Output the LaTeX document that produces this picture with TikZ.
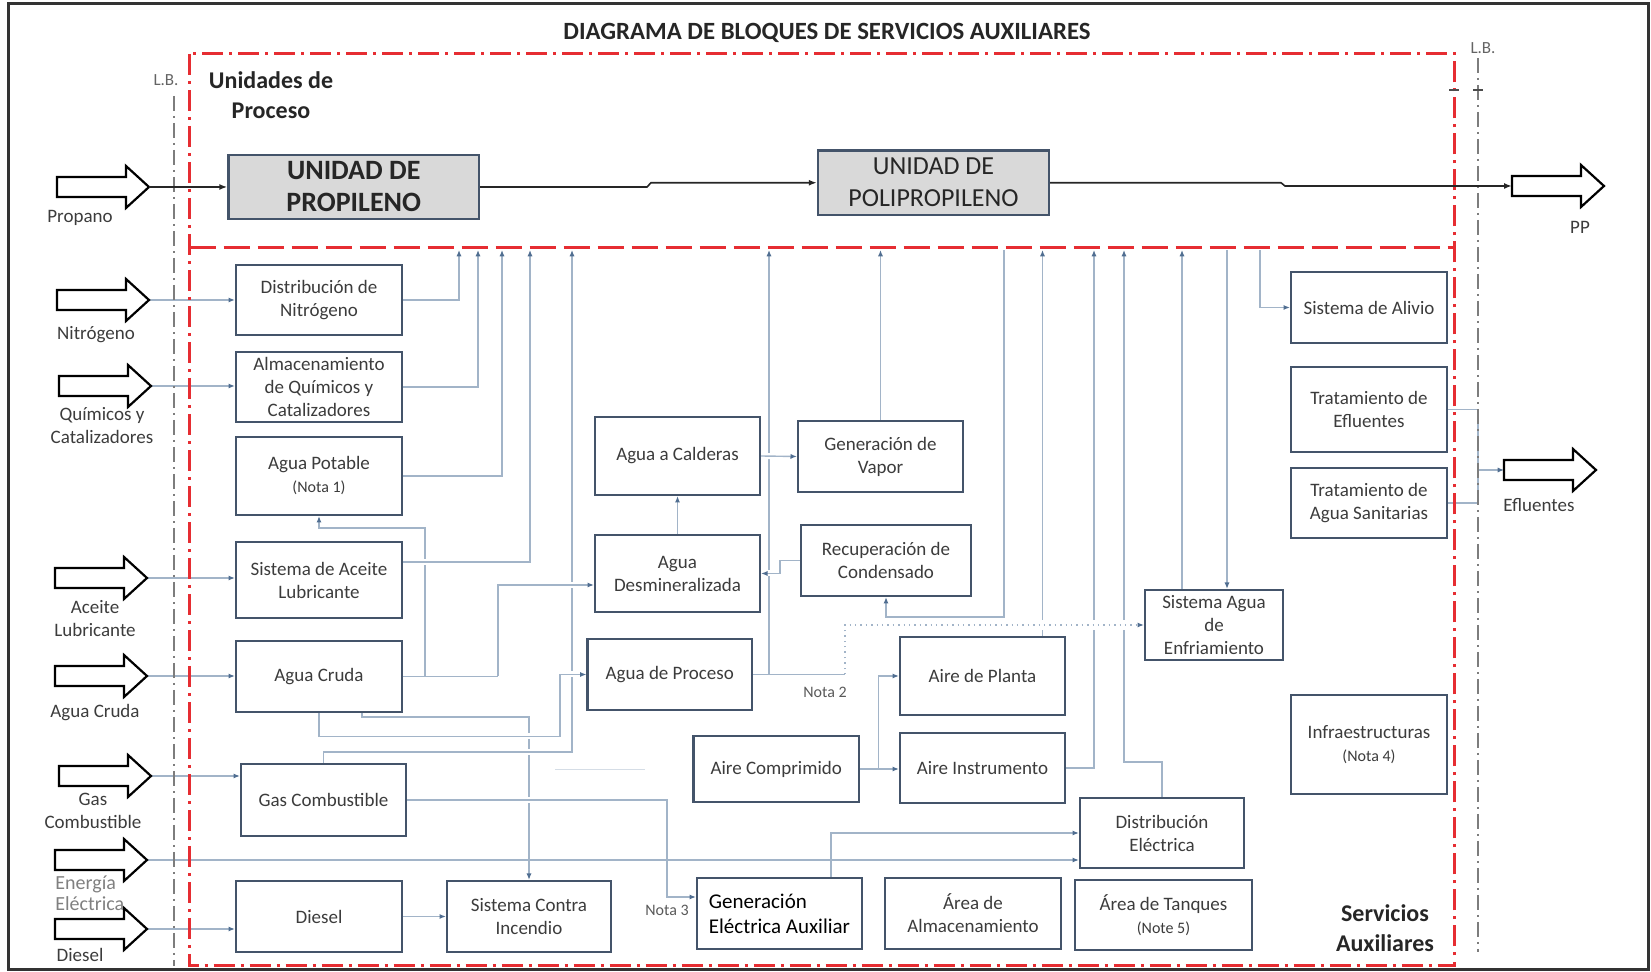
\documentclass[tikz,border=0pt]{standalone}
\usepackage{fontspec}
\setmainfont{Carlito}
\usetikzlibrary{arrows.meta,calc}
\pgfdeclarelayer{bg}
\pgfsetlayers{bg,main}
\definecolor{boxc}{RGB}{68,84,106}
\definecolor{txtc}{RGB}{60,60,60}
\definecolor{connc}{RGB}{162,180,200}
\definecolor{arrc}{RGB}{80,110,145}
\definecolor{redc}{RGB}{230,45,50}
\definecolor{lbc}{RGB}{125,125,125}
\definecolor{unitfill}{RGB}{217,217,217}
\newcommand\blockarr[3]{%
  \draw[barrow] ({#2-92},{#3-10}) -- ({#2-23},{#3-10}) -- ({#2-23},{#3-21}) -- (#2,#3) -- ({#2-23},{#3+21}) -- ({#2-23},{#3+10}) -- ({#2-92},{#3+10}) -- cycle;
  \coordinate (#1) at (#2,#3);
  \coordinate (#1t) at ({#2-92},#3);}
\begin{document}
\begin{tikzpicture}[x=0.5pt,y=-0.5pt,
  box/.style={draw=boxc, line width=1.1pt, fill=white, inner sep=0pt, align=center, text=txtc, font=\fontsize{9.5}{11.5}\selectfont},
  bxat/.style n args={4}{minimum width={(#3-#1)*0.5pt}, minimum height={(#4-#2)*0.5pt}, at={({(#1+#3)/2},{(#2+#4)/2})}},
  unit/.style={draw=boxc, line width=1.2pt, fill=unitfill, inner sep=0pt, align=center, text=black!85},
  conn/.style={draw=connc, line width=0.7pt},
  flow/.style={conn, -{Latex[length=3.2pt,width=2.6pt,color=arrc]}},
  halo/.style={preaction={draw=white, line width=#1, arrows=-, solid}},
  halo/.default=3pt,
  lbl/.style={text=txtc, font=\fontsize{9.5}{11.5}\selectfont, align=center, inner sep=0pt},
  note/.style={text=txtc!85, font=\fontsize{8}{9.5}\selectfont, inner sep=0pt},
  barrow/.style={draw=black, line width=1.1pt, fill=white, line join=miter},
  redbound/.style={draw=redc, line width=1.5pt, dash pattern=on 10.5pt off 3pt on 1.5pt off 3pt},
  reddash/.style={draw=redc, line width=1.5pt, dash pattern=on 13pt off 4pt},
  lbline/.style={draw=lbc, line width=1.1pt, dash pattern=on 7.5pt off 2.5pt on 1pt off 2.5pt},
  procline/.style={draw=black!85, line width=0.8pt, -{Latex[length=4pt,width=3pt]}},
  bigbold/.style={font=\bfseries\fontsize{12}{15}\selectfont, text=black!85, align=center, inner sep=0pt}
]
\useasboundingbox (0,0) rectangle (1651,972);
\draw[black!80, line width=1.5pt] (8,4) rectangle (1648,970);

% title
\node[font=\bfseries\fontsize{12.4}{14}\selectfont, text=black!85, inner sep=0pt] (title) at (827,33) {DIAGRAMA DE BLOQUES DE SERVICIOS AUXILIARES};

% boundaries
\draw[redbound] (189.5,54) rectangle (1454,966);
\draw[reddash] (189.5,248) -- (1454,248);
\draw[lbline] (174,96) -- (174,966);
\draw[lbline] (1478,58) -- (1478,952);
\draw[black!70, line width=0.6pt] (1449,90) -- (1459,90) (1473,90) -- (1483,90);
\node[text=lbc!80!black, font=\fontsize{8.5}{10}\selectfont, inner sep=0pt] (lb1) at (166,80) {L.B.};
\node[text=lbc!80!black, font=\fontsize{8.5}{10}\selectfont, inner sep=0pt] (lb2) at (1483,48) {L.B.};

\node[bigbold] (udp) at (271,95) {Unidades de\\Proceso};
\node[bigbold] (sax) at (1385,928) {Servicios\\Auxiliares};

% process units
\node[unit, bxat={228.5}{155}{479}{219}, font=\bfseries\fontsize{14}{16}\selectfont] (up) {UNIDAD DE\\PROPILENO};
\node[unit, bxat={818}{150.5}{1049}{215}, font=\fontsize{13}{16}\selectfont] (upp) {UNIDAD DE\\POLIPROPILENO};

% block arrows
\blockarr{propA}{149}{187}
\blockarr{nitA}{149}{300}
\blockarr{quiA}{151}{386}
\blockarr{aceA}{147}{578}
\blockarr{acA}{147}{676}
\blockarr{gasA}{151}{776}
\blockarr{eneA}{147}{860}
\blockarr{dieA}{147}{929}
\blockarr{ppA}{1604}{186}
\blockarr{efA}{1596}{470}

\node[lbl] (propL) at (80,218) {Propano};
\node[lbl] (nitL) at (96,335) {Nitrógeno};
\node[lbl] (quiL) at (102,425.5) {Químicos y\\Catalizadores};
\node[lbl] (aceL) at (95,619) {Aceite\\Lubricante};
\node[lbl] (acL) at (95,713) {Agua Cruda};
\node[lbl] (gasL) at (93,810.5) {Gas\\Combustible};
\node[lbl, anchor=west, align=left, text=black!50, font=\fontsize{10}{10.5}\selectfont] (eneL) at (55,893) {Energía\\Eléctrica};
\node[lbl] (dieL) at (80,955) {Diesel};
\node[lbl] (ppL) at (1580,227) {PP};
\node[lbl] (efL) at (1539,505) {Efluentes};

% service boxes
\node[box, bxat={236}{265}{402}{335}] (dn) {Distribución de\\Nitrógeno};
\node[box, bxat={236}{352}{402}{422}] (aq) {Almacenamiento\\de Químicos y\\Catalizadores};
\node[box, bxat={236}{437}{402}{515}] (ap) {Agua Potable\\{\fontsize{8}{10}\selectfont(Nota 1)}};
\node[box, bxat={236}{542}{402}{618}] (sal) {Sistema de Aceite\\Lubricante};
\node[box, bxat={236}{641}{402}{712}] (ac) {Agua Cruda};
\node[box, bxat={241}{764}{406}{836}] (gc) {Gas Combustible};
\node[box, bxat={236}{881}{402}{952}] (di) {Diesel};
\node[box, bxat={447}{881}{611}{952}] (sci) {Sistema Contra\\Incendio};
\node[box, bxat={697}{878}{862}{949}, align=left, text=black, font=\fontsize{10.5}{12.5}\selectfont] (gea) {Generación\\Eléctrica Auxiliar};
\node[box, bxat={885}{878}{1061}{949}] (aa) {Área de\\Almacenamiento};
\node[box, bxat={1075}{880}{1252}{950}] (tanq) {Área de Tanques\\{\fontsize{8}{10}\selectfont(Note 5)}};
\node[box, bxat={1080}{798}{1244}{868}] (de) {Distribución\\Eléctrica};
\node[box, bxat={1291}{695}{1447}{794}] (inf) {Infraestructuras\\{\fontsize{8}{10}\selectfont(Nota 4)}};
\node[box, bxat={1145}{590}{1283}{660}] (sae) {Sistema Agua\\de\\Enfriamiento};
\node[box, bxat={1291}{272}{1447}{343}] (sa) {Sistema de Alivio};
\node[box, bxat={1291}{367}{1447}{452}] (te) {Tratamiento de\\Efluentes};
\node[box, bxat={1291}{468}{1447}{538}] (tas) {Tratamiento de\\Agua Sanitarias};
\node[box, bxat={595}{417}{760}{495}] (acal) {Agua a Calderas};
\node[box, bxat={798}{421}{963}{492}] (gv) {Generación de\\Vapor};
\node[box, bxat={595}{535}{760}{612}] (ad) {Agua\\Desmineralizada};
\node[box, bxat={801}{525}{971}{596}] (rc) {Recuperación de\\Condensado};
\node[box, bxat={587.5}{639}{752}{710}] (apr) {Agua de Proceso};
\node[box, bxat={900}{637}{1065}{715}] (apl) {Aire de Planta};
\node[box, bxat={900}{733}{1065}{803}] (ai) {Aire Instrumento};
\node[box, bxat={693.5}{736}{859}{802}] (acomp) {Aire Comprimido};

\node[note] (n2) at (825,692) {Nota 2};
\node[note] (n3) at (667,910) {Nota 3};

% named coordinates
\coordinate (t459) at (459,250);
\coordinate (t478) at (478,250);
\coordinate (t502) at (502,250);
\coordinate (t530) at (530,250);
\coordinate (t572) at (572,250);
\coordinate (t769) at (769,250);
\coordinate (t881) at (880.5,250);
\coordinate (s1004) at (1004,250);
\coordinate (t1042) at (1042.5,250);
\coordinate (t1094) at (1094,250);
\coordinate (t1124) at (1124,250);
\coordinate (t1182) at (1182,250);
\coordinate (s1227) at (1227,250);
\coordinate (s1260) at (1260,250);
\coordinate (a425) at (425,676.5);
\coordinate (p528) at (425,528);
\coordinate (a498) at (498,676.5);
\coordinate (ci) at (529,717);
\coordinate (g1) at (572,752);
\coordinate (p1) at (560,736.5);
\coordinate (n3c) at (667,897);
\coordinate (a769) at (769,674.5);
\coordinate (n2c) at (845,674.5);
\coordinate (c1) at (886,617);
\coordinate (r1) at (780,560.5);
\coordinate (b879) at (878.5,769);
\coordinate (d1) at (1124,762);
\coordinate (e1) at (1478,409.5);
\coordinate (e2) at (1478,503);
\coordinate (e3) at (1478,470);
\coordinate (j1) at (647,187);
\coordinate (j2) at (651,182.75);
\coordinate (j3) at (1281,182.75);
\coordinate (j4) at (1285,186);
\coordinate (f1) at (555,770);
\coordinate (f2) at (645,770);

% process line
\draw[procline] (propA) -- (propA -| up.west);
\draw[procline] (up.east) -- (j1) -- (j2) -- (upp.west);
\draw[procline] (upp.east) -- (j3) -- (j4) -- (ppAt);

\begin{pgfonlayer}{bg}
% lines that get crossed
\draw[flow] (a425) -- (p528) -| (ap.south);
\draw[flow] ([xshift=21.5pt]ac.south) |- (ci) -- (sci.north);
\draw[flow] (apr.east) -- (a769) -- (t769);
\draw[conn] (a769) -- (n2c);
\draw[flow] (apl.north -| t1042) -- (t1042);
\draw[flow] (ai.east) -| (t1094);
\draw[flow] (de.north) |- (d1) -- (t1124);
\draw[flow] (gv.north) -- (t881);
% crossing lines with gaps
\draw[flow, halo] (gc.north) |- (g1) -- (t572);
\draw[flow, halo] ([yshift=9pt]sal.east) -| (t530);
\draw[flow, halo] (ac.south) |- (p1) |- (apr.west);
\draw[flow, halo] (gc.east) -| (n3c) -- (n3c -| gea.west);
\draw[flow, halo] (a498) |- ([yshift=-5.75pt]ad.west);
\draw[flow, halo] (acal.east) -- (gv.west);
\draw[flow, halo] (rc.west) -- (r1) |- (ad.east);
\draw[flow, dotted, halo=5pt] (n2c) |- (sae.west);
% other connectors
\draw[conn] (ac.east) -- (a498);
\draw[flow] (s1004) |- (c1) -- (rc.south);
\draw[flow] (dn.east) -| (t459);
\draw[flow] (aq.east) -| (t478);
\draw[flow] (ap.east) -| (t502);
\draw[flow] (sae.north -| t1182) -- (t1182);
\draw[flow] (s1227) -- (s1227 |- sae.north);
\draw[flow] (s1260) |- (sa.west);
\draw[conn] (te.east) -- (e1) -- (e2) -- (tas.east);
\draw[flow] (e3) -- (efAt);
\draw[flow] ([xshift=25.75pt]gea.north) |- (de.west);
\draw[flow] (di.east) -- (sci.west);
\draw[flow] (ad.north) -- (acal.south);
\draw[flow] (acomp.east) -- (acomp.east -| ai.west);
\draw[flow] (b879) |- (apl.west);
\draw[connc!45, line width=0.5pt] (f1) -- (f2);
% entries
\draw[flow] (nitA) -- (nitA -| dn.west);
\draw[flow] (quiA) -- (quiA -| aq.west);
\draw[flow] (aceA) -- (aceA -| sal.west);
\draw[flow] (acA) -- (acA -| ac.west);
\draw[flow] (gasA) -- (gasA -| gc.west);
\draw[flow] (dieA) -- (dieA -| di.west);
\draw[flow] (eneA) -- (eneA -| de.west);
\end{pgfonlayer}
\end{tikzpicture}
\end{document}
